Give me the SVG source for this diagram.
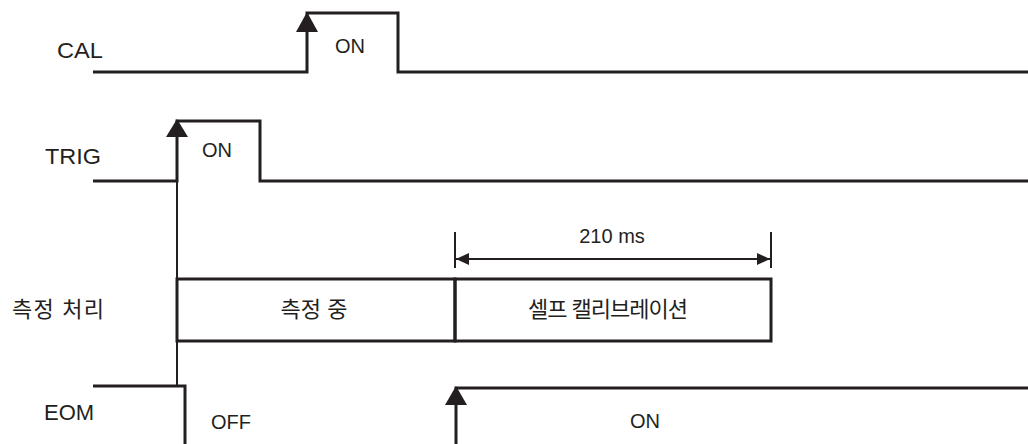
<svg xmlns="http://www.w3.org/2000/svg" width="1028" height="444" viewBox="0 0 1028 444">
<style>
.sig{fill:none;stroke:#231f20;stroke-width:3;stroke-linejoin:miter;stroke-linecap:butt}
.thin{fill:none;stroke:#231f20;stroke-width:2}
.box{fill:none;stroke:#231f20;stroke-width:3}
.head{fill:#231f20;stroke:none}
.lbl{font-family:"Liberation Sans",Arial,sans-serif;font-size:22px;fill:#231f20}
.sm{font-family:"Liberation Sans",Arial,sans-serif;font-size:20px;fill:#231f20}
.kr{font-family:"Liberation Sans","Noto Sans CJK KR",sans-serif;font-size:22px;fill:#231f20}
</style>
<defs>
<marker id="ah" viewBox="0 0 13 12" refX="13" refY="6" markerWidth="13" markerHeight="12" markerUnits="userSpaceOnUse" orient="auto-start-reverse">
<path d="M0,0 L13,6 L0,12 Z" fill="#231f20"/>
</marker>
</defs>
<g id="labels">
<text class="lbl" x="57" y="58" textLength="46" lengthAdjust="spacingAndGlyphs">CAL</text>
<text class="lbl" x="45" y="164" textLength="56" lengthAdjust="spacingAndGlyphs">TRIG</text>
<text class="kr" x="12" y="317" textLength="92" lengthAdjust="spacing">측정 처리</text>
<text class="lbl" x="44" y="420">EOM</text>
</g>
<g id="cal">
<path class="sig" d="M93,72 H307 V13 H398 V72 H1028"/>
<path class="head" d="M307,12 L296,32 L318,32 Z"/>
<text class="sm" x="350" y="53" text-anchor="middle">ON</text>
</g>
<g id="trig">
<path class="sig" d="M93,181 H177 V121 H260 V181 H1028"/>
<path class="head" d="M177,119 L166,137 L188,137 Z"/>
<text class="sm" x="217" y="157" text-anchor="middle">ON</text>
</g>
<g id="process">
<rect class="box" x="177" y="279" width="278" height="62"/>
<rect class="box" x="455" y="279" width="316" height="62"/>
<text class="kr" x="314" y="317" text-anchor="middle">측정 중</text>
<text class="kr" x="608" y="317" text-anchor="middle" textLength="160" lengthAdjust="spacing">셀프 캘리브레이션</text>
</g>
<g id="dimension">
<line class="thin" x1="455" y1="232" x2="455" y2="268"/>
<line class="thin" x1="771" y1="232" x2="771" y2="268"/>
<line class="thin" x1="456" y1="259" x2="770" y2="259" marker-start="url(#ah)" marker-end="url(#ah)"/>
<text class="sm" x="612" y="243" text-anchor="middle">210 ms</text>
</g>
<g id="eom">
<path class="sig" d="M93,386 H185 V444"/>
<path class="sig" d="M456,444 V388 H1028"/>
<path class="head" d="M456,386 L445,405 L467,405 Z"/>
<text class="sm" x="231" y="429" text-anchor="middle">OFF</text>
<text class="sm" x="645" y="428" text-anchor="middle">ON</text>
</g>
<g id="connectors">
<line class="thin" x1="177" y1="181" x2="177" y2="386"/>
</g>
</svg>
